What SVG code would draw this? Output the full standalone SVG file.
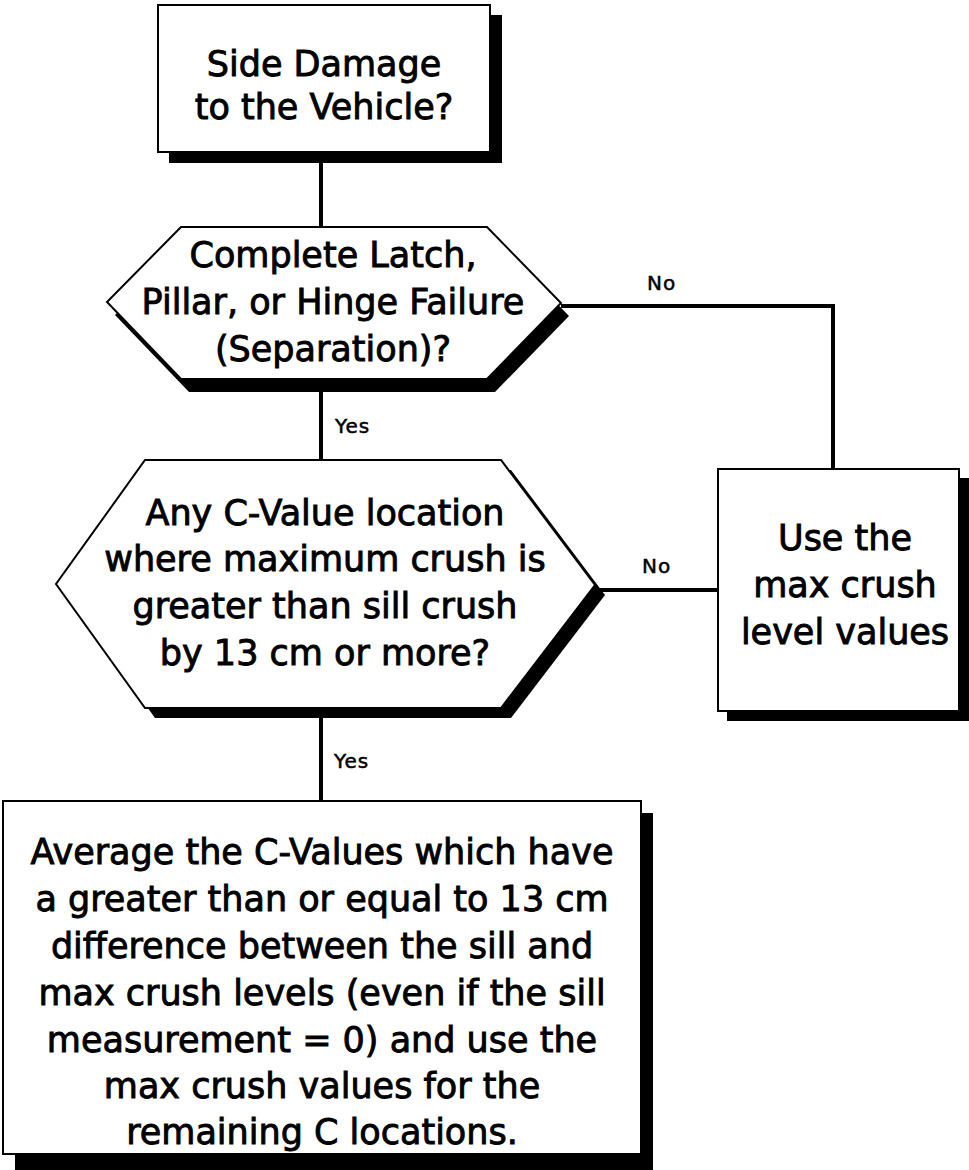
<svg xmlns="http://www.w3.org/2000/svg" width="969" height="1170" viewBox="0 0 969 1170">
  <style>
    .bg { fill: #ffffff; }
    .shadow { fill: #000000; stroke: none; }
    .shape { fill: #ffffff; stroke: #000000; stroke-width: 2; stroke-linejoin: miter; }
    .wire { fill: none; stroke: #000000; stroke-width: 4; stroke-linecap: butt; stroke-linejoin: miter; }
    .big { font-family: "DejaVu Sans", "Liberation Sans", sans-serif; font-size: 35px; fill: #000000; stroke: #000000; stroke-width: 0.9; text-anchor: middle; }
    .tag { font-family: "DejaVu Sans", "Liberation Sans", sans-serif; font-size: 20px; letter-spacing: 1px; fill: #000000; stroke: #000000; stroke-width: 0.5; }
  </style>

  <rect class="bg" x="0" y="0" width="969" height="1170"/>

  <!-- connectors -->
  <g id="connectors">
    <line class="wire" x1="321" y1="150" x2="321" y2="228"/>
    <line class="wire" x1="321" y1="380" x2="321" y2="461"/>
    <polyline class="wire" points="561,306 833,306 833,470"/>
    <line class="wire" x1="321" y1="708" x2="321" y2="802"/>
    <line class="wire" x1="595" y1="590" x2="719" y2="590"/>
    <text class="tag" x="647" y="290">No</text>
    <text class="tag" x="335" y="433">Yes</text>
    <text class="tag" x="642" y="573">No</text>
    <text class="tag" x="334" y="768">Yes</text>
  </g>

  <!-- start question -->
  <g id="side-damage">
    <rect class="shadow" x="169" y="15" width="333" height="148"/>
    <rect class="shape" x="158" y="5" width="332" height="147"/>
    <text class="big" x="324" y="76">Side Damage</text>
    <text class="big" x="324" y="119">to the Vehicle?</text>
  </g>

  <!-- separation decision -->
  <g id="separation">
    <polygon class="shadow" points="189,240 495,240 569,316 495,392 189,392 115,315"/>
    <polygon class="shape" points="181,227 487,227 561,303 487,379 181,379 107,302"/>
    <text class="big" x="333" y="267">Complete Latch,</text>
    <text class="big" x="333" y="314">Pillar, or Hinge Failure</text>
    <text class="big" x="333" y="361">(Separation)?</text>
  </g>

  <!-- crush difference decision -->
  <g id="crush-check">
    <polygon class="shadow" points="155,470 511,470 605,595 511,718 155,718 66,594"/>
    <polygon class="shape" points="145,460 501,460 595,585 501,708 145,708 56,584"/>
    <text class="big" x="325" y="525">Any C-Value location</text>
    <text class="big" x="325" y="571">where maximum crush is</text>
    <text class="big" x="325" y="618">greater than sill crush</text>
    <text class="big" x="325" y="665">by 13 cm or more?</text>
  </g>

  <!-- use max crush -->
  <g id="use-max">
    <rect class="shadow" x="727" y="478" width="242" height="243"/>
    <rect class="shape" x="718" y="469" width="241" height="242"/>
    <text class="big" x="845" y="550">Use the</text>
    <text class="big" x="845" y="597">max crush</text>
    <text class="big" x="845" y="644">level values</text>
  </g>

  <!-- average C-values -->
  <g id="average">
    <rect class="shadow" x="15" y="813" width="638" height="357"/>
    <rect class="shape" x="3" y="801" width="638" height="353"/>
    <text class="big" x="322" y="864">Average the C-Values which have</text>
    <text class="big" x="322" y="911">a greater than or equal to 13 cm</text>
    <text class="big" x="322" y="958">difference between the sill and</text>
    <text class="big" x="322" y="1005">max crush levels (even if the sill</text>
    <text class="big" x="322" y="1052">measurement = 0) and use the</text>
    <text class="big" x="322" y="1098">max crush values for the</text>
    <text class="big" x="322" y="1144">remaining C locations.</text>
  </g>
</svg>
